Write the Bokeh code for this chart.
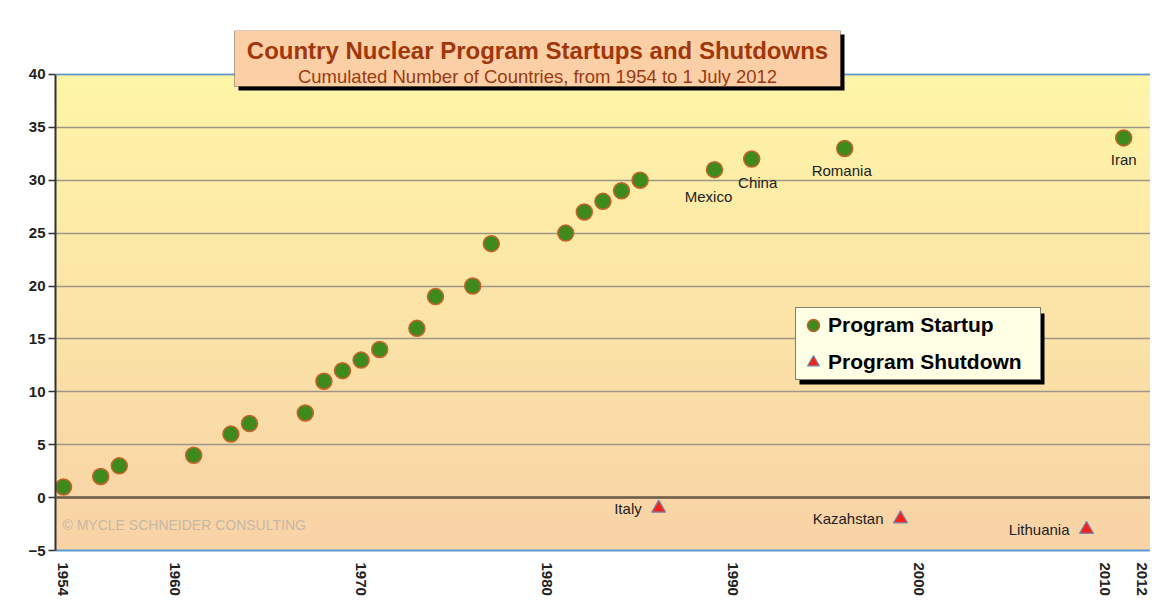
import numpy as np
from bokeh.plotting import figure
from bokeh.models import (FixedTicker, Span, Label, BoxAnnotation, Legend,
                          LegendItem, Range1d, ColumnDataSource)
from bokeh.core.properties import value
from bokeh.embed import file_html
from bokeh.resources import INLINE

# ---------------- data ----------------
startup_years = [1954, 1956, 1957, 1961, 1963, 1964, 1967, 1968, 1969, 1970,
                 1971, 1973, 1974, 1976, 1977, 1981, 1982, 1983, 1984, 1985,
                 1989, 1991, 1996, 2011]
startup_counts = [1, 2, 3, 4, 6, 7, 8, 11, 12, 13,
                  14, 16, 19, 20, 24, 25, 27, 28, 29, 30,
                  31, 32, 33, 34]
named_startup_names = ["Mexico", "China", "Romania", "Iran"]
named_startup_years = [1989, 1991, 1996, 2011]
named_startup_counts = [31, 32, 33, 34]

shutdown_names = ["Italy", "Kazahstan", "Lithuania"]
shutdown_years = [1986, 1999, 2009]
shutdown_counts = [-1, -2, -3]

x_tick_years = [1954, 1960, 1970, 1980, 1990, 2000, 2010, 2012]
y_ticks = [-5, 0, 5, 10, 15, 20, 25, 30, 35, 40]

title_text = "Country Nuclear Program Startups and Shutdowns"
subtitle_text = "Cumulated Number of Countries, from 1954 to 1 July 2012"
copyright_text = "\u00a9 MYCLE SCHNEIDER CONSULTING"
legend_labels = ["Program Startup", "Program Shutdown"]

# ---------------- figure ----------------
X0, X1 = 1953.57, 2012.44
Y0, Y1 = -5, 40          # plotted value range
Y_TOP = 44.15            # extra head-room for the title box
FONT = "Liberation Sans"

p = figure(width=1150, height=598, x_range=Range1d(X0, X1), y_range=Range1d(Y0, Y_TOP),
           output_backend="svg", toolbar_location=None,
           min_border_left=55, min_border_right=0, min_border_top=30, min_border_bottom=47)
p.outline_line_color = None
p.border_fill_color = "white"
p.background_fill_color = "white"

# background gradient (yellow top -> peach bottom), only inside the value range
n = 256
top_c = np.array([255, 246, 168], dtype=float)
bot_c = np.array([249, 211, 166], dtype=float)
t = np.linspace(0, 1, n)[:, None]
rgb = bot_c + (top_c - bot_c) * t
img = np.empty((n, 1), dtype=np.uint32)
view = img.view(dtype=np.uint8).reshape((n, 1, 4))
view[:, 0, 0:3] = rgb.astype(np.uint8)
view[:, 0, 3] = 255
p.image_rgba(image=[img], x=X0, y=Y0, dw=X1 - X0, dh=Y1 - Y0, level="image")

# grid
p.xgrid.visible = False
p.ygrid.ticker = FixedTicker(ticks=y_ticks)
p.ygrid.grid_line_color = "#9E9789"
p.ygrid.grid_line_width = 1.5

p.add_layout(Span(location=0, dimension="width", line_color="#6B5B45", line_width=2.5))
p.add_layout(Span(location=Y1, dimension="width", line_color="#5B9BD5", line_width=1.5))

# axes
p.xaxis.ticker = FixedTicker(ticks=x_tick_years)
p.xaxis.major_label_orientation = "vertical"
p.xaxis.major_tick_out = 0
p.xaxis.major_tick_in = 0
p.xaxis.minor_tick_line_color = None
p.xaxis.axis_line_color = "#5B9BD5"
p.xaxis.axis_line_width = 2
p.xaxis.major_label_standoff = 12

p.yaxis.ticker = FixedTicker(ticks=y_ticks)
p.yaxis.bounds = (Y0, Y1)
p.yaxis.major_tick_out = 7
p.yaxis.major_tick_in = 0
p.yaxis.minor_tick_line_color = None
p.yaxis.axis_line_color = "#333333"
p.yaxis.axis_line_width = 2
p.yaxis.major_tick_line_color = "#333333"
p.yaxis.major_tick_line_width = 1.5
p.yaxis.major_label_standoff = 3

for ax in (p.xaxis, p.yaxis):
    ax.major_label_text_font = FONT
    ax.major_label_text_font_style = "bold"
    ax.major_label_text_font_size = "15px"
    ax.major_label_text_color = "#222222"

# copyright
p.add_layout(Label(x=7, y=18, x_units="screen", y_units="screen", text=copyright_text,
                   text_font=FONT, text_font_size="14px", text_color="#C6B8A4"))

# data marks
r_start = p.scatter(startup_years, startup_counts, marker="circle", size=16,
                    fill_color="#3F8A1C", line_color="#C9612B", line_width=1.5)
r_shut = p.scatter(shutdown_years, shutdown_counts, marker="triangle", size=14,
                   fill_color="#F2231B", line_color="#7A88A8", line_width=1.2)

# point labels
src_named = ColumnDataSource(dict(x=named_startup_years, y=named_startup_counts,
                                  t=named_startup_names,
                                  dx=[-6, 6, -3, 0], dy=[27, 23, 22, 22]))
p.text(x="x", y="y", text="t", source=src_named, x_offset="dx", y_offset="dy",
       text_align="center", text_baseline="middle",
       text_font=value(FONT), text_font_size="15px", text_color="#222222")

src_shut = ColumnDataSource(dict(x=shutdown_years, y=shutdown_counts, t=shutdown_names))
p.text(x="x", y="y", text="t", source=src_shut, x_offset=-17, y_offset=0,
       text_align="right", text_baseline="middle",
       text_font=value(FONT), text_font_size="15px", text_color="#222222")

# legend (with shadow)
p.add_layout(BoxAnnotation(left=744, right=989, top=237, bottom=166,
                           left_units="screen", right_units="screen",
                           top_units="screen", bottom_units="screen",
                           fill_color="black", fill_alpha=1, line_color=None))
legend = Legend(items=[LegendItem(label=legend_labels[0], renderers=[r_start]),
                       LegendItem(label=legend_labels[1], renderers=[r_shut])],
                location=(740, 170), margin=0, padding=2, spacing=7,
                glyph_width=30, glyph_height=30, label_standoff=-3,
                label_width=210, label_height=30,
                background_fill_color="#FFFFE6", background_fill_alpha=1,
                border_line_color="black", border_line_width=1,
                label_text_font=FONT, label_text_font_style="bold",
                label_text_font_size="21px", label_text_color="black")
p.add_layout(legend)

# title box (with shadow)
p.add_layout(BoxAnnotation(left=183, right=789, top=516, bottom=460,
                           left_units="screen", right_units="screen",
                           top_units="screen", bottom_units="screen",
                           fill_color="black", fill_alpha=1, line_color=None))
p.add_layout(BoxAnnotation(left=179, right=785, top=520, bottom=464,
                           left_units="screen", right_units="screen",
                           top_units="screen", bottom_units="screen",
                           fill_color="#FDCFA6", fill_alpha=1,
                           line_color="black", line_width=1))
p.add_layout(Label(x=482, y=500, x_units="screen", y_units="screen", text=title_text,
                   text_align="center", text_baseline="alphabetic",
                   text_font=FONT, text_font_style="bold", text_font_size="24px",
                   text_color="#A0380C"))
p.add_layout(Label(x=482, y=474, x_units="screen", y_units="screen", text=subtitle_text,
                   text_align="center", text_baseline="alphabetic",
                   text_font=FONT, text_font_size="18.5px", text_color="#9A3B12"))

open("out.html", "w").write(file_html(p, INLINE))
